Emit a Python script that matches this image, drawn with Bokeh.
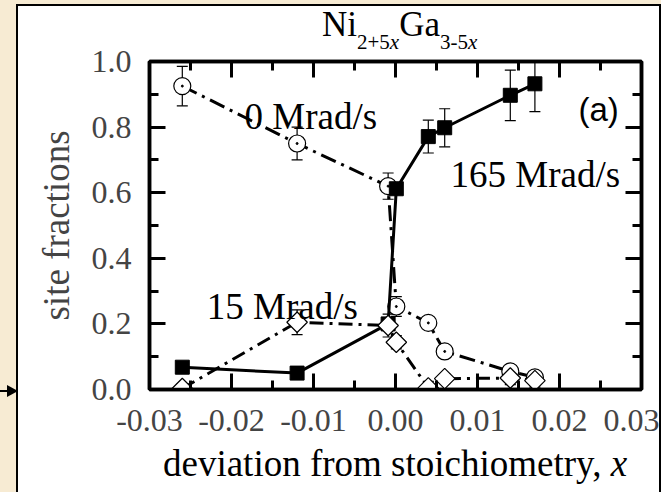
from bokeh.plotting import figure
from bokeh.models import (Range1d, LinearAxis, FixedTicker, PrintfTickFormatter,
                          Label, Whisker, ColumnDataSource, TeeHead, Div,
                          CustomLabelingPolicy)
from bokeh.layouts import column, row
from bokeh.embed import file_html
from bokeh.resources import INLINE

# ---- data ----
x_comp = [-0.026, -0.012, -0.0009, 0.0001, 0.004, 0.006, 0.014, 0.017]

frac_0 = [0.925, 0.750, 0.620, 0.253, 0.203, 0.116, 0.055, 0.037]      # 0 Mrad/s (open circles)
err_0 = [0.060, 0.050, 0.040, 0.030, 0.012, 0.012, 0.015, 0.010]

frac_165 = [0.068, 0.050, 0.200, 0.612, 0.771, 0.798, 0.897, 0.932]    # 165 Mrad/s (filled squares)
err_165 = [0.0, 0.0, 0.010, 0.015, 0.050, 0.058, 0.077, 0.085]

frac_15 = [0.003, 0.205, 0.195, 0.144, 0.005, 0.033, 0.035, 0.027]     # 15 Mrad/s (open diamonds)
err_15 = [0.015, 0.038, 0.035, 0.020, 0.020, 0.015, 0.020, 0.020]

x_ticks = [-0.03, -0.02, -0.01, 0.0, 0.01, 0.02, 0.03]
x_minor = [-0.025, -0.015, -0.005, 0.005, 0.015, 0.025]
y_ticks = [0.0, 0.2, 0.4, 0.6, 0.8, 1.0]
y_minor = [0.1, 0.3, 0.5, 0.7, 0.9]

SERIF = "Liberation Serif"
BEIGE = "#F7EBD3"

p = figure(width=641, height=486, output_backend="svg", toolbar_location=None,
           x_range=Range1d(-0.03, 0.03), y_range=Range1d(0.0, 1.0),
           min_border_left=131, min_border_right=18, min_border_top=55,
           min_border_bottom=103, background_fill_color="white",
           border_fill_color="white")
p.margin = (0, 0, 0, 0)
p.xgrid.visible = False
p.ygrid.visible = False
p.outline_line_color = "black"
p.outline_line_width = 3.5

xt = FixedTicker(ticks=x_ticks, minor_ticks=x_minor)
yt = FixedTicker(ticks=y_ticks, minor_ticks=y_minor)


def style_axis(ax, show_labels):
    ax.axis_line_width = 3.5
    ax.major_tick_in = 16
    ax.major_tick_out = 0
    ax.minor_tick_in = 9
    ax.minor_tick_out = 0
    ax.major_tick_line_width = 3
    ax.minor_tick_line_width = 3
    if not show_labels:
        ax.major_label_policy = CustomLabelingPolicy(code="return []")
        ax.major_label_text_font_size = "8px"
        ax.major_label_standoff = 0


xa = p.xaxis[0]
xa.ticker = xt
xa.formatter = PrintfTickFormatter(format="%.2f")
style_axis(xa, True)
xa.major_label_text_font = SERIF
xa.major_label_text_font_size = "32px"
xa.major_label_standoff = 20

ya = p.yaxis[0]
ya.ticker = yt
ya.formatter = PrintfTickFormatter(format="%.1f")
style_axis(ya, True)
ya.major_label_text_font = SERIF
ya.major_label_text_font_size = "32px"
ya.major_label_standoff = 18
ya.axis_label = "site fractions"
ya.axis_label_text_font = SERIF
ya.axis_label_text_font_style = "normal"
ya.axis_label_text_font_size = "37px"
ya.axis_label_standoff = 12

top_ax = LinearAxis(ticker=xt)
style_axis(top_ax, False)
p.add_layout(top_ax, "above")
right_ax = LinearAxis(ticker=yt)
style_axis(right_ax, False)
p.add_layout(right_ax, "right")


def make_src(y, e):
    return ColumnDataSource(dict(x=x_comp, y=y,
                                 lo=[v - d for v, d in zip(y, e)],
                                 hi=[v + d for v, d in zip(y, e)]))


src0 = make_src(frac_0, err_0)
src165 = make_src(frac_165, err_165)
src15 = make_src(frac_15, err_15)

for src in (src0, src165, src15):
    w = Whisker(source=src, base="x", upper="hi", lower="lo", line_width=1.2,
                line_color="black", level="underlay",
                upper_head=TeeHead(size=11, line_width=1.2, line_color="black"),
                lower_head=TeeHead(size=11, line_width=1.2, line_color="black"))
    p.add_layout(w)

# 0 Mrad/s
p.line("x", "y", source=src0, line_color="black", line_width=3, line_dash="16 6 3 6")
p.scatter("x", "y", source=src0, marker="circle", size=17, fill_color="white",
          line_color="black", line_width=1.2)
p.scatter("x", "y", source=src0, marker="circle", size=2, fill_color="black",
          line_color="black")

# 165 Mrad/s
p.line("x", "y", source=src165, line_color="black", line_width=3)
p.scatter("x", "y", source=src165, marker="square", size=14, fill_color="black",
          line_color="black")

# 15 Mrad/s
p.line("x", "y", source=src15, line_color="black", line_width=3, line_dash="14 6 3 6")
p.scatter("x", "y", source=src15, marker="square", angle=0.785398, size=14.5,
          fill_color="white", line_color="black", line_width=1.2)


def lab(x, y, text, size, font=SERIF, style="normal"):
    p.add_layout(Label(x=x, y=y, text=text, text_font=font, text_font_size=size,
                       text_font_style=style, text_baseline="alphabetic",
                       text_align="left", text_color="black"))


# in-plot labels
lab(-0.01841, 0.8323, "0 Mrad/s", "37px")
lab(0.00671, 0.6546, "165 Mrad/s", "37px")
lab(-0.02301, 0.254, "15 Mrad/s", "37px")
lab(0.02232, 0.8537, "(a)", "33px", font="Liberation Sans")

OVER = {"position": "relative", "z-index": "5", "background": "transparent"}

title_html = (
    "<div style=\"font-family:'Liberation Serif';font-size:35px;line-height:35px;"
    "padding:1px 0 0 304px;white-space:nowrap;color:black\">"
    "Ni<span style=\"font-size:21px;vertical-align:-13px\">2+5<i>x</i></span>"
    "Ga<span style=\"font-size:21px;vertical-align:-13px\">3-5<i>x</i></span></div>"
)
title_div = Div(text=title_html, width=641, height=44, margin=(-486, 0, 0, 0),
                styles=OVER)

xlabel_html = (
    "<div style=\"font-family:'Liberation Serif';font-size:37px;line-height:37px;"
    "padding:1px 0 0 145px;white-space:nowrap;color:black\">"
    "deviation from stoichiometry, <i>x</i></div>"
)
xlabel_div = Div(text=xlabel_html, width=641, height=48, margin=(394, 0, 0, 0),
                 styles=OVER)

arrow_html = (
    "<svg width=\"18\" height=\"492\" xmlns=\"http://www.w3.org/2000/svg\">"
    "<line x1=\"0\" y1=\"391\" x2=\"9\" y2=\"391\" stroke=\"black\" stroke-width=\"2\"/>"
    "<polygon points=\"7,385 18,391 7,397\" fill=\"black\"/></svg>"
)
arrow_div = Div(text=arrow_html, width=18, height=492, margin=(0, 0, 0, 0))

panel = column(p, title_div, xlabel_div, width=641, height=486, margin=(6, 2, 0, 0),
               styles={"background-color": "white", "outline": "2px solid black"})

page = row(arrow_div, panel, width=661, height=492,
           styles={"background-color": BEIGE})

open("out.html", "w").write(file_html(page, INLINE))
